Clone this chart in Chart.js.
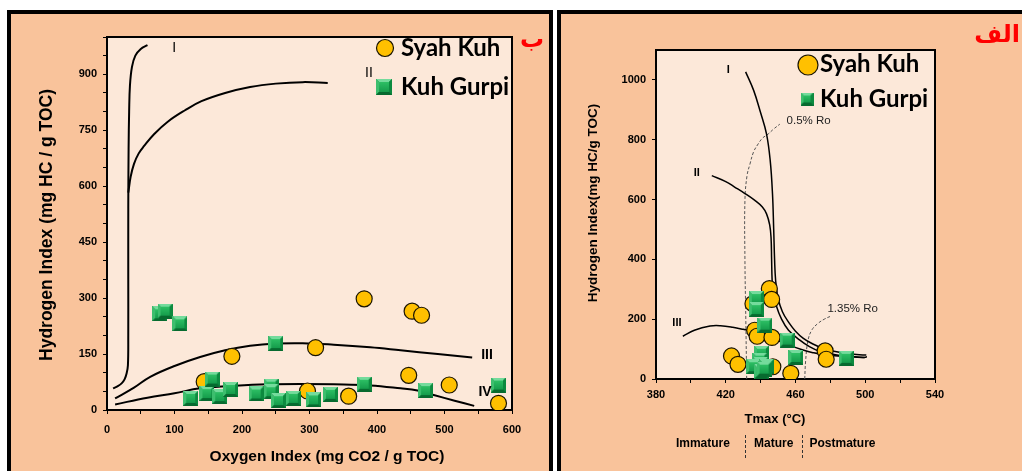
<!DOCTYPE html>
<html>
<head>
<meta charset="utf-8">
<script src="https://cdn.jsdelivr.net/npm/chart.js@4.4.1/dist/chart.umd.min.js"></script>
<style>
  html, body { margin: 0; padding: 0; background: #fff; width: 1022px; height: 471px; overflow: hidden; position: relative; }
  .panel { position: absolute; top: 10px; height: 480px; box-sizing: border-box; border: 4px solid #000; background: #F9C39B; }
  #panelB { left: 7px; width: 546px; }
  #panelA { left: 557px; width: 480px; }
  canvas { position: absolute; top: 0; }
  #chartB { left: 0; }
  #chartA { left: 555px; }
  .tag { position: absolute; color: #f00; font: bold 24px 'DejaVu Sans', sans-serif; direction: rtl; line-height: 1; }
</style>
</head>
<body>
<div class="panel" id="panelB"></div>
<div class="panel" id="panelA"></div>
<canvas id="chartB" width="555" height="471"></canvas>
<canvas id="chartA" width="467" height="471"></canvas>
<div class="tag" style="left:520px;top:27px">ب</div>
<div class="tag" style="right:2px;top:22px">الف</div>
<script>
// ---- Series: HI vs OI (modified Van Krevelen) ----
const seriesNames = ['Syah Kuh', 'Kuh Gurpi'];

const syahKuhOxygen = [[381,298],[452,265],[466,254],[309,167],[185,144],[144,76],[297,51],[358,37],[447,93],[507,67],[580,18]];
const kuhGurpiOxygen = [[78,258],[86,265],[108,231],[250,178],[124,31],[148,44],[156,83],[167,36],[183,55],[221,43],[243,64],[243,49],[254,25],[276,31],[306,27],[331,42],[381,69],[472,52],[580,67]];

// kerogen type boundary curves (OI, HI)
const typeIOxygen = [[9,58],[16,64],[22,72],[26,82],[29,98],[31,120],[31.5,200],[31.5,350],[31.5,500],[31.6,583],[32,700],[32.8,800],[34,870],[37,920],[42,950],[50,968],[60,978]];
const typeIIOxygen = [[31.6,583],[35,625],[40,660],[47,688],[55,708],[70,740],[90,773],[115,803],[140,828],[175,850],[212,866],[250,875],[290,879],[327,877]];
const typeIIIOxygen = [[12,31],[40,60],[64,89],[100,118],[138,142],[175,160],[212,172],[250,178],[290,179],[336,175],[390,168],[435,160],[490,150],[541,141]];
const typeIVOxygen = [[12,15],[60,33],[100,45],[138,58],[190,65],[237,69],[290,70],[336,69],[390,66],[435,58],[460,52],[484,40],[515,25],[544,11]];

// ---- Series: HI vs Tmax ----
const syahKuhTmax = [[445,302],[446.3,266],[435.6,252],[436.6,163],[438,143],[446.5,139],[423.3,77],[427,49],[447,41],[457.3,19],[477,94],[477.6,66]];
const kuhGurpiTmax = [[437.5,269],[437.5,232],[442.5,180],[455.2,130],[460.2,72],[489,69],[440.4,86],[439.6,63],[440,47],[436,41],[443.3,41],[440.4,24],[442,33]];

const typeITmax = [[431.4,1027],[436,965],[440,890],[443.4,819],[445.5,730],[446.8,620],[447.5,500],[448,400],[448.6,330],[450,270],[452.5,225],[456,190],[460,160],[464.5,136],[470,117],[476,102],[482,93],[489,86],[495,82],[500.6,80]];
const typeIITmax = [[412,680],[420,660],[425.3,641],[431,620],[436.7,597],[441,575],[443.4,552],[445.2,515],[446,470],[446.3,400],[446.6,330],[447.2,290],[449,245],[452,200],[456,163],[462.5,130],[468,108],[474,92],[481,83],[487.2,77],[494,74],[499.6,72]];
const typeIIITmax = [[395.4,143],[402,163],[411,177],[417,178],[424,173],[430,166],[435.8,158],[442,146],[449.1,130],[456,114],[464.3,97],[470,88],[477.7,80],[488,76],[498.6,72],[501,74]];
const ro05Tmax = [[432,0],[431.5,200],[431,400],[431,597],[432.2,680],[433.9,719],[436,760],[438.6,786],[441,805],[444.3,819],[447.5,836],[451,852]];
const ro135Tmax = [[465.3,0],[465.8,60],[467.2,130],[469.5,165],[472.9,186],[476.5,200],[480.2,210]];

const maturityZones = ['Immature', 'Mature', 'Postmature'];
const maturityBounds = [431, 464];

// ---- helpers ----
const toXY = arr => arr.map(([x, y]) => ({ x, y }));

function bevelSquare(size) {
  const c = document.createElement('canvas');
  c.width = c.height = size;
  const g = c.getContext('2d');
  const b = Math.max(2, Math.round(size * 0.2));
  const poly = (pts, fill) => { g.beginPath(); g.moveTo(pts[0][0], pts[0][1]); pts.slice(1).forEach(p => g.lineTo(p[0], p[1])); g.closePath(); g.fillStyle = fill; g.fill(); };
  g.fillStyle = '#0B7A37'; g.fillRect(0, 0, size, size);
  poly([[0,0],[size,0],[size-b,b],[b,b]], '#74DB9C');
  poly([[0,0],[b,b],[b,size-b],[0,size]], '#3DBE6E');
  poly([[size,0],[size,size],[size-b,size-b],[size-b,b]], '#0C8A3F');
  poly([[0,size],[size,size],[size-b,size-b],[b,size-b]], '#076A2F');
  const gr = g.createLinearGradient(0, b, 0, size - b);
  gr.addColorStop(0, '#2DBF64'); gr.addColorStop(1, '#159C4B');
  g.fillStyle = gr; g.fillRect(b, b, size - 2 * b, size - 2 * b);
  return c;
}
const squareMark = bevelSquare(15);
const legendSquareB = bevelSquare(16);
const legendSquareA = bevelSquare(13);

Chart.defaults.font.family = "'Liberation Sans', Arial, sans-serif";
Chart.defaults.color = '#000';

// chart frame, axis titles, curve labels, legend and maturity zones
const panelArt = {
  id: 'panelArt',
  beforeDraw(chart, _a, o) {
    const { ctx, chartArea: a } = chart;
    ctx.save();
    ctx.fillStyle = o.plotFill;
    ctx.fillRect(a.left, a.top, a.width, a.height);
    ctx.restore();
  },
  beforeDatasetsDraw(chart, _a, o) {
    const { ctx, chartArea: a } = chart;
    ctx.save();
    ctx.strokeStyle = '#000';
    ctx.lineWidth = o.frameWidth;
    ctx.strokeRect(a.left, a.top, a.width, a.height);
    ctx.restore();
  },
  afterDatasetsDraw(chart, _a, o) {
    const { ctx, scales: { x, y } } = chart;
    ctx.save();
    (o.curveLabels || []).forEach(l => {
      ctx.font = l.font;
      ctx.fillStyle = l.color || '#000';
      ctx.textAlign = l.align || 'center';
      ctx.textBaseline = 'middle';
      ctx.fillText(l.text, x.getPixelForValue(l.at[0]), y.getPixelForValue(l.at[1]));
    });
    ctx.restore();
  },
  afterDraw(chart, _a, o) {
    const { ctx, scales: { x } } = chart;
    ctx.save();
    ctx.fillStyle = '#000';
    (o.titles || []).forEach(t => {
      ctx.save();
      ctx.translate(t.cx, t.cy);
      ctx.rotate(t.rot || 0);
      ctx.font = t.font;
      ctx.textAlign = 'center';
      ctx.textBaseline = 'middle';
      ctx.fillText(t.text, 0, 0);
      ctx.restore();
    });
    if (o.legend) {
      const L = o.legend;
      L.items.forEach(it => {
        const ds = chart.data.datasets[it.dataset];
        if (ds.pointStyle === 'circle') {
          ctx.beginPath();
          ctx.arc(it.marker[0], it.marker[1], it.r, 0, Math.PI * 2);
          ctx.fillStyle = ds.backgroundColor;
          ctx.fill();
          ctx.lineWidth = ds.borderWidth;
          ctx.strokeStyle = ds.borderColor;
          ctx.stroke();
        } else {
          const img = it.img;
          ctx.drawImage(img, it.marker[0] - img.width / 2, it.marker[1] - img.height / 2);
        }
        ctx.fillStyle = '#000';
        ctx.font = L.font;
        ctx.textAlign = 'left';
        ctx.textBaseline = 'middle';
        ctx.fillText(ds.label, L.textX, it.textY);
      });
    }
    if (o.zones) {
      const Z = o.zones;
      const b0 = x.getPixelForValue(Z.bounds[0]);
      const b1 = x.getPixelForValue(Z.bounds[1]);
      ctx.strokeStyle = '#333';
      ctx.lineWidth = 1;
      ctx.setLineDash([3, 2]);
      [b0, b1].forEach(px => {
        ctx.beginPath();
        ctx.moveTo(Math.round(px) + 0.5, Z.top);
        ctx.lineTo(Math.round(px) + 0.5, Z.bottom);
        ctx.stroke();
      });
      ctx.setLineDash([]);
      ctx.font = Z.font;
      ctx.fillStyle = '#000';
      ctx.textBaseline = 'middle';
      ctx.textAlign = 'right';
      ctx.fillText(Z.labels[0], b0 - 15, Z.y);
      ctx.textAlign = 'center';
      ctx.fillText(Z.labels[1], (b0 + b1) / 2, Z.y);
      ctx.textAlign = 'left';
      ctx.fillText(Z.labels[2], b1 + 7, Z.y);
    }
    ctx.restore();
  }
};

const tickFont = { size: 11, weight: 'bold' };

function curve(label, pts, width, extra) {
  return Object.assign({
    label, data: toXY(pts), showLine: true, pointRadius: 0, borderColor: '#000',
    borderWidth: width, tension: 0.4, fill: false, order: 2
  }, extra || {});
}
function circles(label, pts) {
  return { label, data: toXY(pts), pointStyle: 'circle', pointRadius: 8, backgroundColor: '#FFC000', borderColor: '#1a1400', borderWidth: 1.2, showLine: false, order: 1 };
}
function squares(label, pts) {
  return { label, data: toXY(pts), pointStyle: squareMark, pointRadius: 7.5, backgroundColor: '#1FA653', borderColor: '#0B7A37', borderWidth: 0, showLine: false, order: 0 };
}

// ---- HI vs OI chart ----
new Chart(document.getElementById('chartB'), {
  type: 'scatter',
  data: {
    datasets: [
      circles(seriesNames[0], syahKuhOxygen),
      squares(seriesNames[1], kuhGurpiOxygen),
      curve('I', typeIOxygen, 2),
      curve('II', typeIIOxygen, 2),
      curve('III', typeIIIOxygen, 2),
      curve('IV', typeIVOxygen, 2)
    ]
  },
  options: {
    responsive: false, animation: false, devicePixelRatio: 1, events: [],
    layout: { padding: { left: 0, right: 43, top: 37, bottom: 0 } },
    plugins: {
      legend: { display: false }, tooltip: { enabled: false },
      panelArt: {
        plotFill: '#FCE8D9', frameWidth: 2,
        curveLabels: [
          { text: 'I', at: [99.5, 971], font: '14px "Liberation Sans"' },
          { text: 'II', at: [388, 903], font: '14px "Liberation Sans"' },
          { text: 'III', at: [563, 147], font: 'bold 14px "Liberation Sans"' },
          { text: 'IV', at: [560, 47], font: 'bold 14px "Liberation Sans"' }
        ],
        titles: [
          { text: 'Oxygen Index (mg CO2 / g TOC)', cx: 327, cy: 457, font: 'bold 15.5px "Liberation Sans"' },
          { text: 'Hydrogen Index (mg HC / g TOC)', cx: 47, cy: 225, rot: -Math.PI / 2, font: 'bold 17.5px "Liberation Sans"' }
        ],
        legend: {
          font: 'bold 24px Lato', textX: 401,
          items: [
            { dataset: 0, marker: [385, 48], r: 8.5, textY: 48 },
            { dataset: 1, marker: [384, 87], img: legendSquareB, textY: 87 }
          ]
        }
      }
    },
    scales: {
      x: {
        type: 'linear', min: 0, max: 600,
        ticks: { stepSize: 50, autoSkip: false, maxRotation: 0, padding: 9, font: tickFont, callback: v => (v % 100 === 0 ? String(v) : '') },
        grid: { drawOnChartArea: false, tickLength: 4, color: '#000' },
        border: { display: false },
        afterFit(s) { s.height = 61; }
      },
      y: {
        type: 'linear', min: 0, max: 1000,
        ticks: { stepSize: 50, autoSkip: false, padding: 6, font: tickFont, callback: v => (v % 150 === 0 ? String(v) : '') },
        grid: { drawOnChartArea: false, tickLength: 4, color: '#000' },
        border: { display: false },
        afterFit(s) { s.width = 107; }
      }
    }
  },
  plugins: [panelArt]
});

// ---- HI vs Tmax chart ----
new Chart(document.getElementById('chartA'), {
  type: 'scatter',
  data: {
    datasets: [
      circles(seriesNames[0], syahKuhTmax),
      squares(seriesNames[1], kuhGurpiTmax),
      curve('I', typeITmax, 1.5),
      curve('II', typeIITmax, 1.5),
      curve('III', typeIIITmax, 1.5),
      curve('0.5% Ro', ro05Tmax, 1, { borderColor: '#555', borderDash: [3, 2] }),
      curve('1.35% Ro', ro135Tmax, 1, { borderColor: '#555', borderDash: [3, 2] })
    ]
  },
  options: {
    responsive: false, animation: false, devicePixelRatio: 1, events: [],
    layout: { padding: { left: 0, right: 87, top: 50, bottom: 0 } },
    plugins: {
      legend: { display: false }, tooltip: { enabled: false },
      panelArt: {
        plotFill: '#FCE8D9', frameWidth: 2,
        curveLabels: [
          { text: 'I', at: [421.5, 1032], font: 'bold 11px "Liberation Sans"' },
          { text: 'II', at: [403.4, 688], font: 'bold 11px "Liberation Sans"' },
          { text: 'III', at: [392, 186], font: 'bold 11px "Liberation Sans"' },
          { text: '0.5% Ro', at: [454.9, 863], font: '11.5px "Liberation Sans"', align: 'left', color: '#222' },
          { text: '1.35% Ro', at: [478.3, 233], font: '11.5px "Liberation Sans"', align: 'left', color: '#222' }
        ],
        titles: [
          { text: 'Tmax (°C)', cx: 220, cy: 419, font: 'bold 13px "Liberation Sans"' },
          { text: 'Hydrogen Index(mg HC/g TOC)', cx: 38, cy: 203, rot: -Math.PI / 2, font: 'bold 13.5px "Liberation Sans"' }
        ],
        legend: {
          font: 'bold 24px Lato', textX: 265,
          items: [
            { dataset: 0, marker: [253, 65], r: 10, textY: 64 },
            { dataset: 1, marker: [252, 99], img: legendSquareA, textY: 99 }
          ]
        },
        zones: { labels: maturityZones, bounds: maturityBounds, y: 444, top: 435, bottom: 458, font: 'bold 12px "Liberation Sans"' }
      }
    },
    scales: {
      x: {
        type: 'linear', min: 380, max: 540,
        ticks: { stepSize: 20, autoSkip: false, maxRotation: 0, padding: 5, font: tickFont, callback: v => ((v - 380) % 40 === 0 ? String(v) : '') },
        grid: { drawOnChartArea: false, tickLength: 4, color: '#000' },
        border: { display: false },
        afterFit(s) { s.height = 92; }
      },
      y: {
        type: 'linear', min: 0, max: 1100,
        ticks: { stepSize: 200, includeBounds: false, autoSkip: false, padding: 6, font: tickFont, callback: v => String(v) },
        grid: { drawOnChartArea: false, tickLength: 4, color: '#000' },
        border: { display: false },
        afterFit(s) { s.width = 101; }
      }
    }
  },
  plugins: [panelArt]
});
</script>
</body>
</html>
